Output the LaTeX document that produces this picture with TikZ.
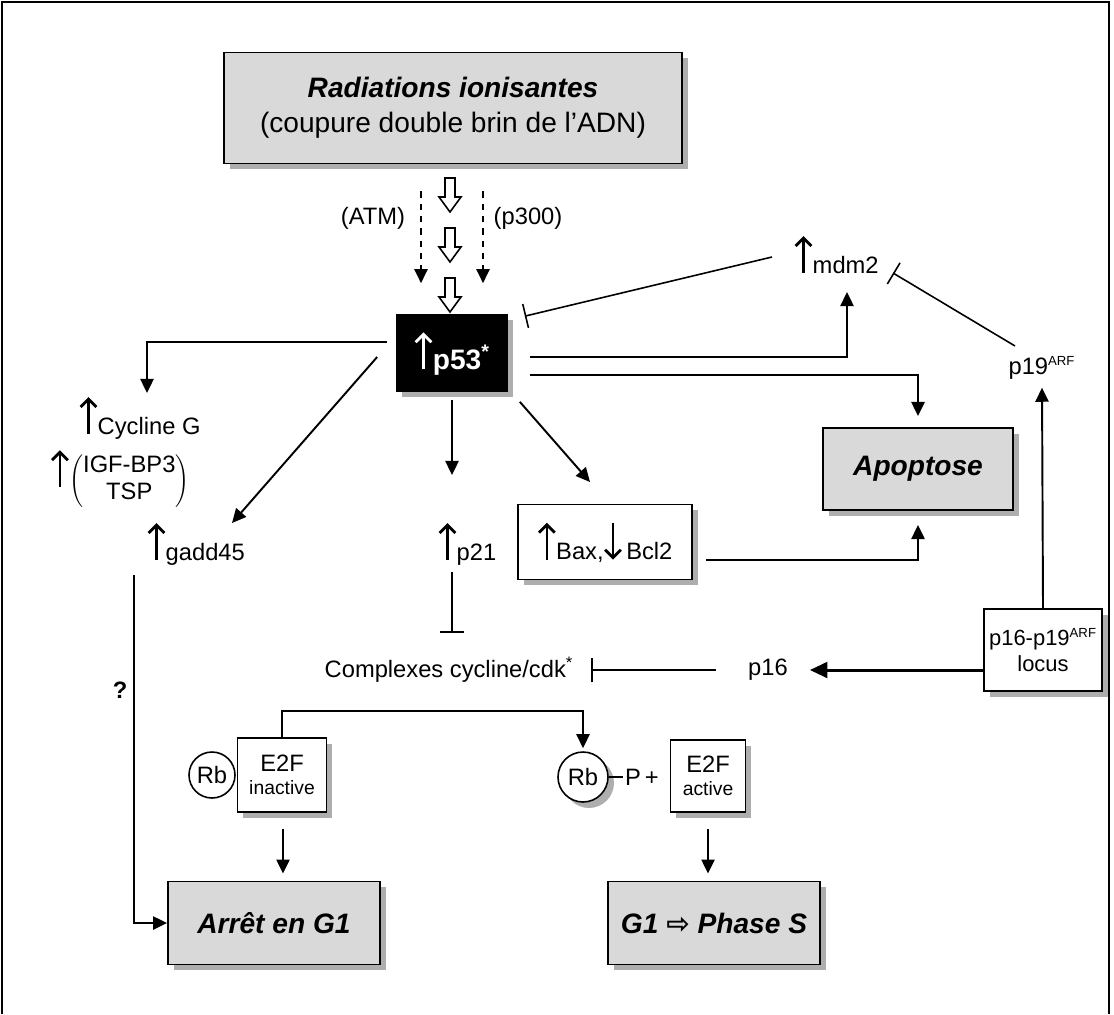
\documentclass[tikz,border=0pt]{standalone}
\usepackage{fontspec}
\setmainfont{Liberation Sans}
\newfontfamily\symfont{DejaVu Sans}
\usetikzlibrary{positioning,arrows.meta,calc,shadows}
\definecolor{boxgray}{HTML}{D9D9D9}
\definecolor{shadowgray}{HTML}{9A9A9A}
\newcommand{\uparr}[1][black]{\tikz[baseline=0pt]\draw[#1,line width=1.6pt,-{Straight Barb[length=4.5pt,width=9pt]}] (0,0) -- (0,21pt);}
\newcommand{\dnarr}[1][black]{\tikz[baseline=0pt]\draw[#1,line width=1.6pt,-{Straight Barb[length=4.5pt,width=9pt]}] (0,21pt) -- (0,0);}
\newcommand{\arf}{\textsuperscript{\fontsize{7.5}{8}\selectfont ARF}}
\tikzset{
    every node/.style={font=\fontsize{13.5}{15}\selectfont,inner sep=1pt},
    boxshadow/.style={drop shadow={shadow xshift=3.4pt,shadow yshift=-3.4pt,fill=shadowgray,opacity=0.8}},
    graybox/.style={draw,line width=1.1pt,fill=boxgray,boxshadow,align=center,font=\fontsize{16}{20}\selectfont},
    whitebox/.style={draw,line width=1.1pt,fill=white,boxshadow,align=center},
    blackbox/.style={draw,fill=black,text=white,boxshadow,font=\fontsize{16}{18}\selectfont\bfseries},
    rbcirc/.style={circle,draw,line width=0.9pt,fill=white,inner sep=0pt},
    conn/.style={draw,line width=1.1pt,-{Triangle[length=8pt,width=7.5pt]}},
    bigconn/.style={draw,line width=1.7pt,-{Triangle[length=10pt,width=9pt]}},
    dasharrow/.style={conn,dash pattern=on 3.5pt off 3.5pt},
    inhib/.style={draw,line width=0.9pt,-{Bar[width=14pt,line width=0.9pt]}},
    hollowdn/.pic={
        \draw[line width=0.9pt,fill=white] (-5,-17) -- (5,-17) -- (5,2) -- (11,2)
            -- (0,17) -- (-11,2) -- (-5,2) -- cycle;
    }
}
\begin{document}
\begin{tikzpicture}[x=0.02cm,y=-0.02cm]
\useasboundingbox (0,0) rectangle (1114,1014);
\draw[line width=1pt] (2,1014) -- (2,2) -- (1109,2) -- (1109,1014);

% main boxes
\node[graybox,minimum width=9.16cm,minimum height=2.22cm] (rad) at (453,108)
    {\textbf{\textit{Radiations ionisantes}}\\(coupure double brin de l'ADN)};
\node[blackbox,minimum width=2.22cm,minimum height=1.54cm] (p53) at (452,353)
    {\uparr[white]p53\textsuperscript{*}};
\node[whitebox,minimum width=3.48cm,minimum height=1.5cm] (bax) at (605,542)
    {\uparr Bax,\dnarr\,Bcl2};
\node[graybox,minimum width=3.8cm,minimum height=1.64cm] (apop) at (918,469)
    {\textbf{\textit{Apoptose}}};
\node[whitebox,minimum width=2.36cm,minimum height=1.64cm,font=\fontsize{12.5}{15}\selectfont] (locus) at (1043,650)
    {p16-p19\arf\\locus};
\node[graybox,minimum width=4.24cm,minimum height=1.66cm] (arret) at (274,923)
    {\textbf{\textit{Arrêt en G1}}};
\node[graybox,minimum width=4.24cm,minimum height=1.66cm] (g1s) at (714,923)
    {\textbf{\textit{G1 {\symfont\bfseries ⇨} Phase S}}};

% Rb / E2F
\node[rbcirc,minimum size=0.92cm] (rb1) at (212,775) {Rb};
\node[whitebox,minimum width=1.78cm,minimum height=1.48cm] (e2fi) at (282,775)
    {E2F\\[-2pt]{\fontsize{11}{12}\selectfont inactive}};
\node[rbcirc,boxshadow,minimum size=1.0cm] (rb2) at (583,777) {Rb};
\node[anchor=west] (ptxt) at (623,777) {P\,+};
\node[whitebox,minimum width=1.5cm,minimum height=1.44cm] (e2fa) at (708,776)
    {E2F\\[-2pt]{\fontsize{11}{12}\selectfont active}};

% labels
\node (atm) at (373,218) {(ATM)};
\node (p300) at (528,218) {(p300)};
\node[anchor=base west] (cycG) at (77,434) {\uparr Cycline G};
\node[inner sep=0pt] (igf) at (120,478) {\uparr$\left(\begin{tabular}{@{}c@{}}IGF-BP3\\TSP\end{tabular}\right)$};
\node[anchor=base west] (gadd) at (145,560) {\uparr gadd45};
\node[anchor=base west] (p21) at (436,560) {\uparr p21};
\node[anchor=base west] (mdm2) at (792,273) {\uparr mdm2};
\node (p19) at (1042,368) {p19\arf};
\node (p16) at (768,670) {p16};
\node (cplx) at (449,670) {Complexes cycline/cdk\textsuperscript{*}};
\node[font=\fontsize{13.5}{15}\selectfont\bfseries] (q) at (120,690) {?};

% free ends
\coordinate (cycGin) at (147,393);
\coordinate (gaddin) at (232,523);
\coordinate (p21in) at (452,475);
\coordinate (baxin) at (590,482);
\coordinate (mdmin) at (847,292);
\coordinate (mdmout) at (772,257);
\coordinate (p19out) at (1015,346);
\coordinate (mdmbar) at (893,273);
\coordinate (p21out) at (452,572);
\coordinate (cplxtop) at (452,633);
\coordinate (gaddout) at (134,575);

% radiation -> p53
\pic at (450,195) {hollowdn};
\pic at (450,245) {hollowdn};
\pic at (450,295) {hollowdn};
\draw[dasharrow] ($(rad.south)+(-32,27)$) -- ($(p53.north)+(-31,-31)$);
\draw[dasharrow] ($(rad.south)+(30,27)$) -- ($(p53.north)+(31,-31)$);

% p53 targets
\draw[conn] ($(p53.west)+(-9,-11)$) -| (cycGin);
\draw[conn] ($(p53.west)+(-19,4)$) -- (gaddin);
\draw[conn] ($(p53.south)+(0,8)$) -- (p21in);
\draw[conn] ($(p53.south east)+(12,10)$) -- (baxin);
\draw[conn] ($(p53.east)+(22,4)$) -| (mdmin);
\draw[conn] ($(p53.east)+(22,22)$) -| ($(apop.north)+(0,-11)$);
\draw[inhib] (mdmout) -- ($(p53.north east)+(17,2)$);
\draw[inhib] (p19out) -- (mdmbar);
\draw[conn] ($(bax.east)+(13,18)$) -| ($(apop.south)+(0,14)$);

% p16-p19 locus
\draw[conn] (locus.north) -- ($(p19.south)+(0,6)$);
\draw[bigconn] (locus.west |- p16) -- ($(p16.east)+(20,0)$);
\draw[inhib] ($(p16.west)+(-30,0)$) -- ($(cplx.east)+(16,0)$);
\draw[inhib] (p21out) -- (cplxtop);

% Rb / E2F
\draw[conn] (e2fi.north) |- ($(rb2.north)+(0,-40)$) -- ($(rb2.north)+(0,-3)$);
\draw[line width=0.9pt] (rb2.east) -- (ptxt.west);
\draw[conn] ($(e2fi.south)+(1,16)$) -- ($(e2fi.south |- arret.north)+(1,-7)$);
\draw[conn] ($(e2fa.south)+(0,16)$) -- ($(e2fa.south |- g1s.north)+(0,-7)$);
\draw[conn] (gaddout) |- (arret.west);
\end{tikzpicture}
\end{document}
